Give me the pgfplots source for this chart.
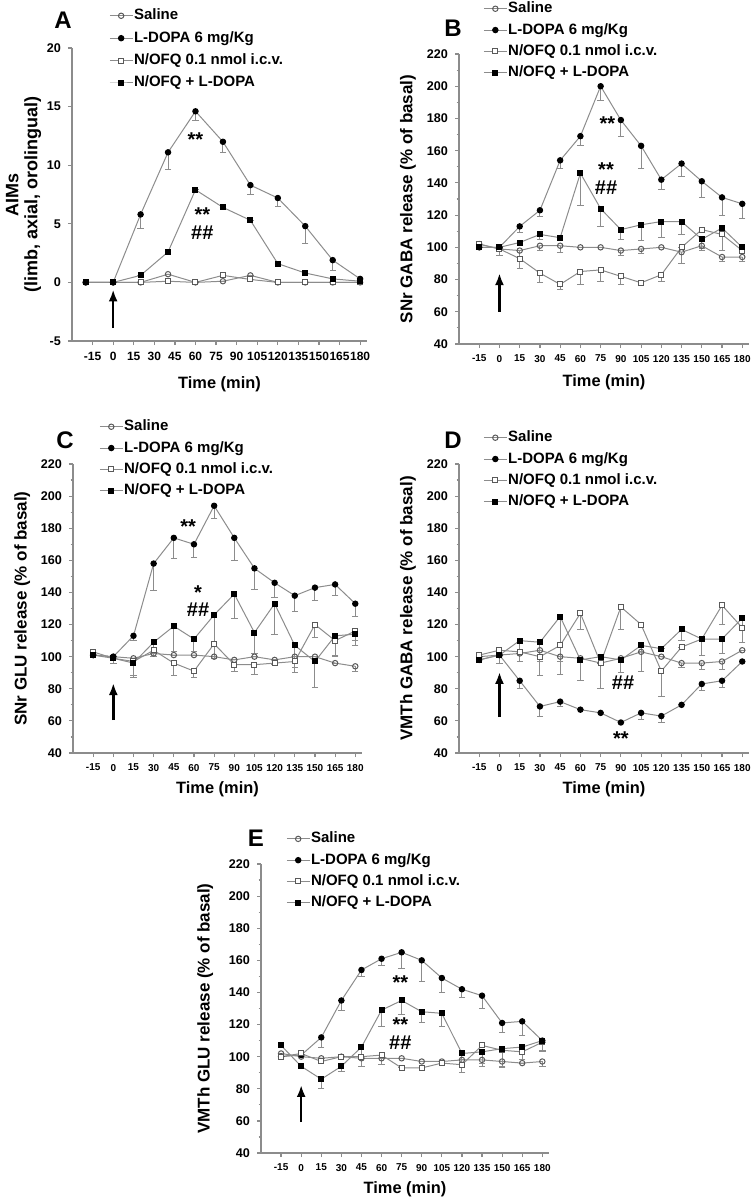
\documentclass[border=0pt]{standalone}
\usepackage{pgfplots}
\pgfplotsset{compat=1.18}
\usepackage{pgfplotstable}
\usepackage{fontspec}
\setmainfont{Liberation Sans}
\usetikzlibrary{arrows.meta}

% Panel A (AIMs, every 20 min)
\pgfplotstableread{
t   sal  salE ld   ldE nof  nofE comb combE
-20 0    0    0    0   0    0    0    0
0   0    0    0    0   0    0    0    0
20  0    0    5.8  1.2 0    0    0.6  0
40  0.7  0    11.1 1.5 0.1  0    2.6  0
60  0    0    14.6 0.8 0    0    7.9  0
80  0.1  0    12.0 0.9 0.6  0    6.4  0
100 0.6  0    8.3  0.8 0.25 0    5.3  0
120 0    0    7.2  0.7 0    0    1.6  0
140 0    0    4.8  1.5 0    0    0.8  0
160 0    0    1.9  0.9 0    0    0.3  0
180 0    0    0.3  0   0    0    0.1  0
}\tabA
% Panel B (SNr GABA)
\pgfplotstableread{
t   sal salE ld  ldE nof nofE comb combE
-15 102 0    100 0   102 0    100  0
0   99  0    100 0   99  4    100  0
15  98  4    113 4   93  6    103  0
30  101 3    123 4   84  6    108  3
45  101 4    154 5   77  3    106  0
60  100 0    169 6   85  8    146  20
75  100 0    200 9   86  7    124  11
90  98  3    179 10  82  5    111  6
105 99  3    163 14  78  0    114  10
120 100 0    142 6   83  4    116  10
135 97  7    152 8   100 0    116  8
150 101 3    141 10  111 0    105  6
165 94  3    131 11  108 10   112  14
180 94  3    127 9   98  0    100  0
}\tabB
% Panel C (SNr GLU)
\pgfplotstableread{
t   sal salE ld  ldE nof nofE comb combE
-15 101 0    101 0   103 0    101  0
0   100 0    100 0   99  3    99   0
15  99  0    113 3   97  9    96   9
30  102 0    158 17  104 4    109  7
45  101 0    174 13  96  8    119  16
60  101 0    170 8   91  4    111  8
75  100 0    194 8   108 9    126  18
90  98  0    174 14  95  4    139  15
105 100 0    155 13  95  6    115  13
120 98  0    146 9   96  1    133  19
135 100 0    138 10  97  4    107  17
150 100 0    143 8   120 8    97   16
165 96  0    145 7   110 10   113  12
180 94  3    133 8   116 6    114  7
}\tabC
% Panel D (VMTh GABA)
\pgfplotstableread{
t   sal salE ld  ldE nof nofE comb combE
-15 98  0    100 0   101 0    98   0
0   101 0    101 5   104 0    101  0
15  102 0    85  5   103 6    110  8
30  104 16   69  6   100 0    109  12
45  100 11   72  3   107 10   125  25
60  99  0    67  0   127 10   98   13
75  96  0    65  0   96  0    100  20
90  99  9    59  0   131 14   98   8
105 103 0    65  4   120 0    107  16
120 100 0    63  4   91  16   105  0
135 96  3    70  0   106 0    117  7
150 96  4    83  4   111 10   111  10
165 97  5    85  4   132 12   111  9
180 104 0    97  0   118 0    124  15
}\tabD
% Panel E (VMTh GLU)
\pgfplotstableread{
t   sal salE ld  ldE nof nofE comb combE
-15 102 0    100 0   100 0    107  0
0   100 0    101 0   102 0    94   0
15  99  0    112 6   97  0    86   6
30  100 0    135 6   100 0    94   3
45  99  0    154 4   100 6    106  12
60  99  0    161 4   101 6    129  10
75  99  0    165 10  93  0    135  9
90  97  0    160 13  93  0    128  7
105 97  0    149 9   96  0    127  8
120 98  0    142 5   95  5    102  12
135 98  4    138 8   107 0    103  7
150 97  4    121 6   104 10   105  12
165 96  0    122 9   103 0    106  8
180 97  3    110 7   109 0    110  6
}\tabE

\pgfplotsset{
  errs/.style={error bars/.cd, y dir=minus, y explicit,
     error bar style={black!45, line width=0.5pt},
     error mark options={rotate=90, black!45, line width=0.5pt, mark size=1.6pt}},
  sal/.style={black!45, line width=0.5pt, mark=o, mark size=1.35pt,
     mark options={draw=black!65, fill=white, line width=0.5pt}, errs},
  ld/.style={black!45, line width=0.5pt, mark=*, mark size=1.35pt,
     mark options={draw=black, fill=black}, errs},
  nof/.style={black!45, line width=0.5pt, mark=square*, mark size=1.25pt,
     mark options={draw=black!65, fill=white, line width=0.5pt}, errs},
  comb/.style={black!45, line width=0.5pt, mark=square*, mark size=1.25pt,
     mark options={draw=black, fill=black}, errs},
  panel/.style={
    scale only axis, anchor=south west,
    axis x line*=bottom, axis y line*=left,
    axis line style={black!45, line width=0.6pt, -},
    tick style={black!45, line width=0.6pt},
    tick align=outside, major tick length=2pt, minor tick length=1.2pt,
    xmin=-30, xmax=185, xtick={-15,0,...,180},
    /pgf/number format/assume math mode=true,
    x tick label style={font=\fontsize{5}{5}\selectfont\bfseries},
    y tick label style={font=\fontsize{6.3}{6.3}\selectfont\bfseries},
    xlabel={Time (min)},
    xlabel style={font=\fontsize{8.2}{9}\selectfont\bfseries, anchor=center},
    ylabel style={font=\fontsize{8.5}{9.5}\selectfont\bfseries, anchor=center},
    legend style={draw=none, fill=none, anchor=north west, inner sep=0pt,
       font=\fontsize{7.5}{8}\selectfont\bfseries,
       nodes={inner sep=0.5pt, text height=5.5pt, text depth=1.5pt},
       /tikz/column 2/.style={column sep=1.8pt},
       row sep=2.65pt},
    legend cell align=left,
    legend image code/.code={\draw[mark repeat=2,mark phase=2] plot coordinates {(0cm,0cm) (0.2cm,0cm) (0.4cm,0cm)};},
    clip=false,
  },
  pct/.style={ymin=40, ymax=220, ytick={40,60,...,220}, minor y tick num=1},
  arrowp/.style={black, line width=1.2pt, -{Latex[length=6pt,width=4.5pt]}, forget plot},
}
\newcommand{\fourplots}[1]{%
  \addplot[sal]  table[x=t, y=sal,  y error=salE]  {#1};
  \addplot[ld]   table[x=t, y=ld,   y error=ldE]   {#1};
  \addplot[nof]  table[x=t, y=nof,  y error=nofE]  {#1};
  \addplot[comb] table[x=t, y=comb, y error=combE] {#1};
  \legend{Saline, L-DOPA 6 mg/Kg, N/OFQ 0.1 nmol i.c.v., N/OFQ + L-DOPA}%
}
\tikzset{ann/.style={font=\fontsize{10}{10}\selectfont\bfseries, inner sep=0pt}}

\begin{document}
\begin{tikzpicture}
\path[use as bounding box] (0,0) rectangle (376.5pt,-599.5pt);

% ---------- A ----------
\begin{axis}[panel, at={(36pt,-170.5pt)}, width=147.5pt, height=146.5pt,
  ymin=-5, ymax=20, ytick={-5,0,...,20},
  ylabel={AIMs\\(limb, axial, orolingual)},
  ylabel style={align=center, font=\fontsize{9}{9.5}\selectfont\bfseries, at={(axis description cs:-0.164,0.5)}},
  xlabel style={at={(axis description cs:0.5,-0.147)}},
  x tick label style={font=\fontsize{6}{6}\selectfont\bfseries},
  legend style={at={(0.125,1.1386)}, row sep=3.2pt}]
\addplot[arrowp] coordinates {(0,-3.9) (0,-0.6)};
\fourplots{\tabA}
\node[ann] at (axis cs:60,12.2) {**};
\node[ann] at (axis cs:65,5.8) {**};
\node[ann] at (axis cs:65,4.2) {\#\#};
\end{axis}

% ---------- B ----------
\begin{axis}[panel, pct, at={(229.5pt,-172pt)}, width=145pt, height=145pt,
  ylabel={SNr GABA release (\% of basal)},
  ylabel style={at={(axis description cs:-0.176,0.5)}},
  xlabel style={at={(axis description cs:0.5,-0.131)}},
  legend style={at={(0.083,1.185)}}]
\addplot[arrowp] coordinates {(0,60) (0,84)};
\fourplots{\tabB}
\node[ann] at (axis cs:80,177) {**};
\node[ann] at (axis cs:79,148) {**};
\node[ann] at (axis cs:79,137) {\#\#};
\end{axis}

% ---------- C ----------
\begin{axis}[panel, pct, at={(36.5pt,-376.5pt)}, width=144.5pt, height=144.5pt,
  ylabel={SNr GLU release (\% of basal)},
  ylabel style={at={(axis description cs:-0.176,0.5)}},
  xlabel style={at={(axis description cs:0.5,-0.125)}},
  legend style={at={(0.090,1.158)}}]
\addplot[arrowp] coordinates {(0,60.5) (0,83.6)};
\fourplots{\tabC}
\node[ann] at (axis cs:55.6,181) {**};
\node[ann] at (axis cs:63,140) {*};
\node[ann] at (axis cs:63,129) {\#\#};
\end{axis}

% ---------- D ----------
\begin{axis}[panel, pct, at={(229.5pt,-376.5pt)}, width=145pt, height=144.5pt,
  ylabel={VMTh GABA release (\% of basal)},
  ylabel style={at={(axis description cs:-0.176,0.5)}},
  xlabel style={at={(axis description cs:0.5,-0.125)}},
  legend style={at={(0.083,1.120)}}]
\addplot[arrowp] coordinates {(0,62.4) (0,90.5)};
\fourplots{\tabD}
\node[ann] at (axis cs:91.6,83.6) {\#\#};
\node[ann] at (axis cs:90,49) {**};
\end{axis}

% ---------- E ----------
\begin{axis}[panel, pct, at={(130.5pt,-576.5pt)}, width=144pt, height=144.5pt,
  ylabel={VMTh GLU release (\% of basal)},
  ylabel style={at={(axis description cs:-0.194,0.5)}},
  xlabel style={at={(axis description cs:0.5,-0.125)}},
  legend style={at={(0.0865,1.116)}}]
\addplot[arrowp] coordinates {(0,59.3) (0,82.4)};
\fourplots{\tabE}
\node[ann] at (axis cs:74,146) {**};
\node[ann] at (axis cs:74,120) {**};
\node[ann] at (axis cs:74,108.5) {\#\#};
\end{axis}

% panel letters
\node[font=\fontsize{12}{12}\selectfont\bfseries] at (31.5pt,-10pt) {A};
\node[font=\fontsize{12}{12}\selectfont\bfseries] at (226.5pt,-14pt) {B};
\node[font=\fontsize{12}{12}\selectfont\bfseries] at (32.5pt,-220pt) {C};
\node[font=\fontsize{12}{12}\selectfont\bfseries] at (226.5pt,-220pt) {D};
\node[font=\fontsize{12}{12}\selectfont\bfseries] at (128pt,-419pt) {E};
\end{tikzpicture}
\end{document}
